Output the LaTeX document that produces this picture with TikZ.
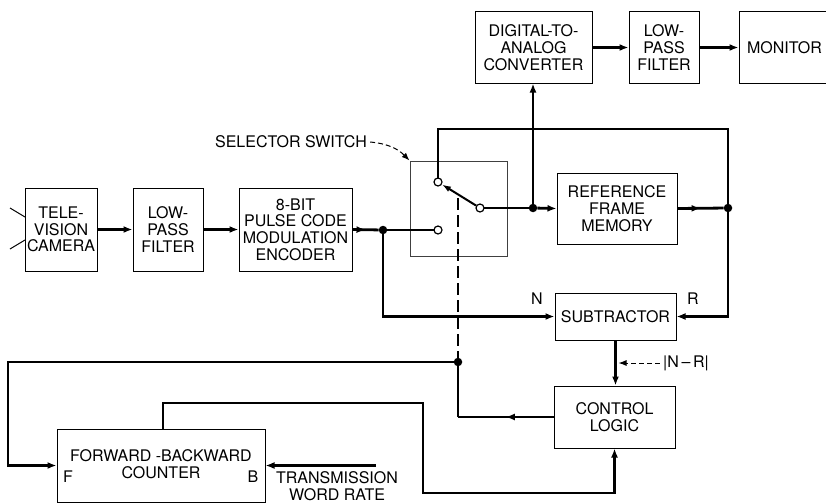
\documentclass[tikz,border=0pt]{standalone}
\usepackage{fontspec}
\setmainfont{TeX Gyre Heros}
\usetikzlibrary{arrows.meta,decorations.markings}
\newcommand{\diaglbl}{\fontsize{16}{16.7}\selectfont}
\begin{document}
\begin{tikzpicture}[x=1pt,y=-1pt,
  box/.style={draw, line width=1pt, inner sep=0pt, align=center, font=\diaglbl},
  lbl/.style={inner sep=0pt, align=center, font=\diaglbl},
  conn/.style={line width=2.8pt},
  arr/.style={-{Latex[length=9pt,width=7pt]}},
  midarrow/.style={postaction={decorate},decoration={markings,mark=at position 0.5 with {\arrow{Latex[length=9pt,width=7pt]}}}},
  jdot/.style={circle, fill, inner sep=0pt, minimum size=8.5pt},
  contact/.style={circle, draw, fill=white, line width=1.2pt, inner sep=0pt, minimum size=8pt},
  thinarr/.style={line width=1pt, -{Latex[length=8pt,width=6pt]}}]
\useasboundingbox (0,0) rectangle (826,503);
% boxes
\node[box, minimum width=72pt, minimum height=83pt] (cam) at (61,229.5) {TELE-\\VISION\\CAMERA};
\node[box, minimum width=70pt, minimum height=83pt] (lpf1) at (168,229.5) {LOW-\\PASS\\FILTER};
\node[box, minimum width=113pt, minimum height=83pt] (pcm) at (295.5,229.5) {8-BIT\\PULSE CODE\\MODULATION\\ENCODER};
\node[draw, line width=0.9pt, draw=black!75, inner sep=0pt, minimum width=97pt, minimum height=95pt] (sw) at (458.5,208.5) {};
\node[box, minimum width=117pt, minimum height=71pt] (dac) at (533.5,47.5) {DIGITAL-TO-\\ANALOG\\CONVERTER};
\node[box, minimum width=70pt, minimum height=71pt] (lpf2) at (664,47.5) {LOW-\\PASS\\FILTER};
\node[box, minimum width=91pt, minimum height=71pt] (mon) at (784.5,47.5) {MONITOR};
\node[box, minimum width=120pt, minimum height=71pt] (rfm) at (617,208.5) {REFERENCE\\FRAME\\MEMORY};
\node[box, minimum width=121pt, minimum height=47pt] (sub) at (615.5,316.5) {SUBTRACTOR};
\node[box, minimum width=121pt, minimum height=62pt] (ctl) at (614.5,417) {CONTROL\\LOGIC};
\node[box, minimum width=208pt, minimum height=73pt] (cnt) at (161,465.5) {};
\node[lbl] (cntt) at (161,464) {FORWARD -BACKWARD\\COUNTER};
\node[lbl] (fl) at (68,477) {F};
\node[lbl] (bl) at (253,477) {B};
\node[lbl] (trans) at (337,486.5) {TRANSMISSION\\WORD RATE};
\node[lbl] (nl) at (537,299) {N};
\node[lbl] (rl) at (693,299) {R};
\node[lbl] (sel) at (291,142) {SELECTOR SWITCH};
\node[lbl] (nr) at (686,363) {|N\,–\,R|};
% junctions and contacts
\node[jdot] (d1) at (383,230) {};
\node[jdot] (d2) at (533,208) {};
\node[jdot] (d3) at (728,208) {};
\node[jdot] (d4) at (458,362) {};
\coordinate (tr) at (728,129);
\coordinate (lf) at (8,362);
\coordinate (tw) at (376,465.5);
\coordinate (k1) at (423,403);
\coordinate (k2) at (423,493);
\coordinate (armp) at (458,198);
% antenna
\draw[line width=1pt] (10,208) -- (25,217);
\draw[line width=1pt] (10,249) -- (25,240);
% connectors
\draw[conn,arr] (cam.east) -- (lpf1.west);
\draw[conn,arr] (lpf1.east) -- (pcm.west);
\draw[conn,midarrow] (pcm.east) -- (d1);
\draw[conn] (d1) -- (438,230);
\draw[conn,arr] (d1) |- (sub.west);
\draw[conn] (438,182) |- (tr) -- (d3);
\draw[conn,arr] (d3) |- (sub.east);
\draw[conn] (480,208) -- (d2);
\draw[conn,arr] (d2) -- (rfm.west);
\draw[conn,arr] (d2) -- (d2 |- dac.south);
\draw[conn,arr] (dac.east) -- (lpf2.west);
\draw[conn,arr] (lpf2.east) -- (mon.west);
\draw[conn,midarrow] (rfm.east) -- (d3);
\draw[conn,arr] (sub.south) -- (sub.south |- ctl.north);
\draw[conn,midarrow] (ctl.west) -- (ctl.west -| d4);
\draw[conn] (ctl.west -| d4) -- (d4);
\draw[line width=2pt, dash pattern=on 12pt off 5pt] (armp) -- (d4);
\draw[conn,arr] (d4) -- (lf) |- (cnt.west);
\draw[conn,arr] ([xshift=2pt]cnt.north) |- (k1) -- (k2) -| (ctl.south);
\draw[conn,arr] (tw) -- (tw -| cnt.east);
% switch contacts
\node[contact] (c1) at (438,182) {};
\node[contact] (c2) at (480,208) {};
\node[contact] (c3) at (438,230) {};
\draw[line width=2pt,-{Latex[length=9pt,width=6pt]}] (c2) -- (c1);
% dashed label arrows
\draw[thinarr, dash pattern=on 5pt off 3pt] ([xshift=3pt]sel.east) to[bend left=20] (sw.north west);
\draw[thinarr, dash pattern=on 5pt off 3pt, shorten <=3pt, shorten >=3pt] (nr.west) -- (nr.west -| sub.south);
\end{tikzpicture}
\end{document}
